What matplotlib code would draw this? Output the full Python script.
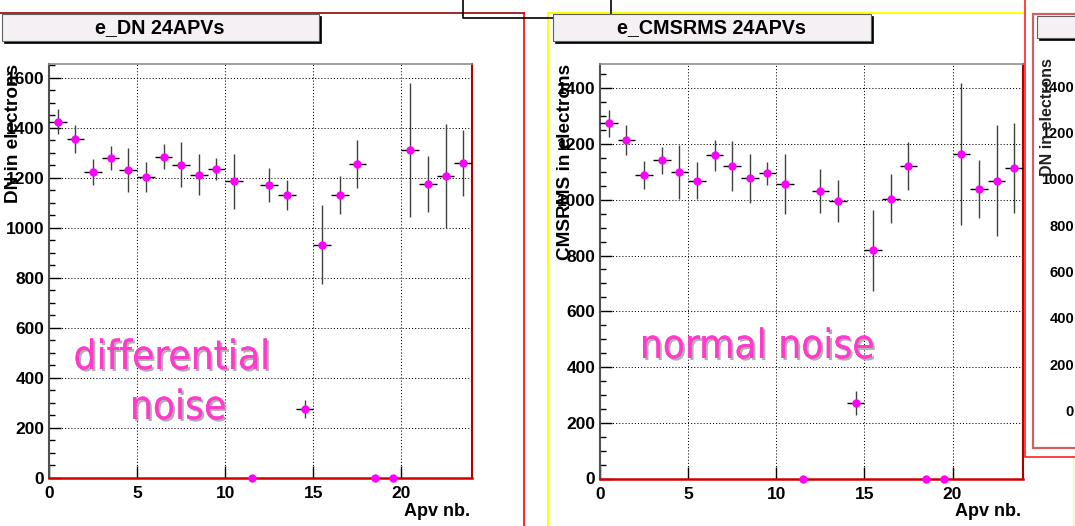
import numpy as np
import matplotlib.pyplot as plt
from matplotlib.lines import Line2D
from matplotlib.patches import Rectangle
from matplotlib.ticker import MultipleLocator
import matplotlib.patheffects as pe

plt.rcParams['font.family'] = ['Liberation Sans', 'DejaVu Sans']
plt.rcParams['font.weight'] = 'bold'

# bin centres of the 24 APVs
apv = np.arange(24) + 0.5

# differential noise per APV (electrons) and its spread
dn = np.array([1425, 1356, 1224, 1280, 1232, 1204, 1284, 1252, 1212, 1237, 1187, 0,
               1171, 1131, 275, 933, 1131, 1256, 0, 0, 1312, 1175, 1208, 1260])
dn_err = np.array([50, 57, 52, 48, 88, 60, 50, 90, 82, 44, 110, 0,
                   68, 60, 37, 157, 76, 95, 0, 0, 267, 113, 207, 133])

# common-mode subtracted RMS noise per APV (electrons)
cms = np.array([1274, 1214, 1090, 1141, 1098, 1069, 1159, 1122, 1077, 1095, 1057, 0,
                1032, 996, 271, 818, 1004, 1120, 0, 0, 1163, 1040, 1069, 1113])
cms_err = np.array([49, 53, 50, 47, 97, 67, 57, 90, 88, 41, 108, 0,
                    78, 76, 42, 146, 87, 86, 0, 0, 255, 104, 198, 161])

third_ticks = [0, 200, 400, 600, 800, 1000, 1200, 1400]

W, H = 1075, 526
fig = plt.figure(figsize=(W / 100, H / 100), dpi=100)
fig.patch.set_facecolor('white')


def fx(x):
    return x / W


def fy(y):
    return 1 - y / H


def hist_axes(x0, x1, y0, y1, vals, errs, ymax):
    ax = fig.add_axes([fx(x0), fy(y1), (x1 - x0) / W, (y1 - y0) / H])
    ax.set_xlim(0, 24)
    ax.set_ylim(0, ymax)
    ax.set_xticks([0, 5, 10, 15, 20])
    ax.set_yticks(np.arange(0, ymax, 200))
    ax.yaxis.set_minor_locator(MultipleLocator(50))
    ax.tick_params(which='major', direction='in', length=8.6, width=1,
                   labelsize=12.5, pad=3.5)
    ax.tick_params(axis='x', which='major', pad=6)
    ax.tick_params(axis='y', which='minor', direction='in', length=4.3, width=1)
    ax.tick_params(axis='x', which='minor', bottom=False)
    ax.grid(True, which='major', color='black', linestyle=(0, (1, 2)), lw=0.75)
    ax.set_axisbelow(True)
    ax.spines['left'].set_color('#505050')
    ax.spines['left'].set_linewidth(1.5)
    ax.spines['top'].set_color('#909090')
    ax.spines['top'].set_linewidth(1.2)
    ax.spines['right'].set_color('#b00000')
    ax.spines['right'].set_linewidth(1.5)
    ax.spines['bottom'].set_color('#d00000')
    ax.spines['bottom'].set_linewidth(1.8)

    xerr = np.where(vals > 0, 0.5, 0)
    ax.errorbar(apv, vals, xerr=xerr, fmt='none', ecolor='black', elinewidth=1.0,
                capsize=0, zorder=3)
    ax.errorbar(apv, vals, yerr=errs, fmt='none', ecolor='#404040', elinewidth=1.0,
                capsize=0, zorder=3)
    ax.plot(apv, vals, 'o', color='#ff00ff', ms=5, mec='#ff00ff', zorder=4,
            clip_on=False)
    return ax


hist_axes(49, 472, 64, 478, dn, dn_err, 1655)
hist_axes(600, 1023, 64, 478.5, cms, cms_err, 1487)


def line(xs, ys, color, lw=1.2):
    fig.add_artist(Line2D([fx(x) for x in xs], [fy(y) for y in ys],
                          color=color, lw=lw, transform=fig.transFigure,
                          zorder=5))


def rect(x0, y0, x1, y1, fc='none', ec='black', lw=1.0, z=5):
    fig.add_artist(Rectangle((fx(x0), fy(y1)), (x1 - x0) / W, (y1 - y0) / H,
                             facecolor=fc, edgecolor=ec, lw=lw,
                             transform=fig.transFigure, zorder=z))


def title_box(x0, y0, x1, y1, text=None, cx=None):
    rect(x0 + 2, y0 + 2, x1 + 2, y1 + 2, fc='black', ec='black', lw=0.5, z=6)
    rect(x0, y0, x1, y1, fc='#f4f0f4', ec='#606060', lw=0.8, z=6)
    if text:
        fig.text(fx(cx), fy((y0 + y1) / 2), text, ha='center', va='center',
                 fontsize=14.2, fontweight='bold', zorder=7)


# pad borders
line([0, 524], [13, 13], '#a02828', lw=1.4)
line([524, 524], [13, 526], '#ff0000', lw=1.2)
line([548, 1023], [13, 13], '#ffff00', lw=1.4)
line([548, 548], [13, 526], '#ffff00', lw=1.4)
line([1073, 1073], [457, 526], '#f4f0b0', lw=1.0)
line([463, 463, 611, 611], [-2, 18, 18, -2], 'black', lw=1.2)

# third pad, partly hidden at the right edge
line([1025, 1025, 1080], [0, 457, 457], '#ff2020', lw=1.2)
rect(1033, 14, 1085, 448, fc='white', ec='#d06060', lw=1.6, z=5)
title_box(1037, 16, 1090, 38)
for v in third_ticks:
    fig.text(fx(1074), fy(412 - v * 46.3 / 200), str(v), ha='right', va='center',
             fontsize=10.5, fontweight='bold', zorder=7)
fig.text(fx(1048), fy(58), 'DN in electrons', rotation=90, ha='center', va='top',
         fontsize=11.5, fontweight='bold', color='#202020', zorder=8)

title_box(2, 14, 319, 41, 'e_DN 24APVs', 160)
title_box(553, 14, 871, 41, 'e_CMSRMS 24APVs', 711)

# axis titles
fig.text(fx(14), fy(64), 'DN in electrons', rotation=90, ha='center', va='top',
         fontsize=13.7, fontweight='bold', zorder=8)
fig.text(fx(565), fy(64), 'CMSRMS in electrons', rotation=90, ha='center', va='top',
         fontsize=13.7, fontweight='bold', zorder=8)
fig.text(fx(470), fy(511), 'Apv nb.', ha='right', va='center', fontsize=13,
         fontweight='bold', zorder=8)
fig.text(fx(1021), fy(511), 'Apv nb.', ha='right', va='center', fontsize=13,
         fontweight='bold', zorder=8)

# pink annotations with a grey drop shadow
shadow = [pe.withSimplePatchShadow(offset=(1.5, -1.5), shadow_rgbFace='#a8a8a8',
                                   alpha=0.9), pe.Normal()]
note = dict(color='#ff3acd', fontsize=29, fontweight='normal', ha='center',
            va='baseline', family='DejaVu Sans', fontstretch='condensed',
            path_effects=shadow, zorder=8)
fig.text(fx(171.7), fy(369), 'differential', **note)
fig.text(fx(178), fy(419), 'noise', **note)
fig.text(fx(757), fy(358), 'normal noise', **note)

fig.savefig('out.png', dpi=100)
